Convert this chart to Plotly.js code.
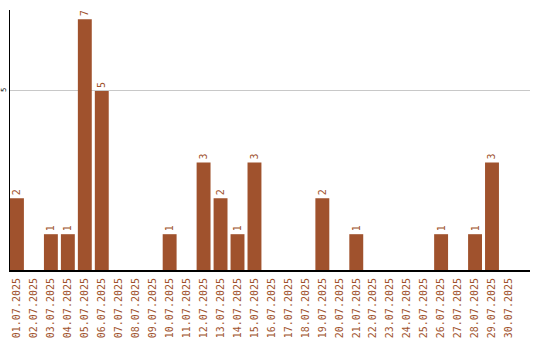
<!DOCTYPE html>
<html>
<head>
<meta charset="utf-8">
<script src="https://cdn.plot.ly/plotly-3.0.1.min.js"></script>
<style>
  html, body { margin: 0; padding: 0; background: #fff; }
  #chart { width: 540px; height: 340px; }
</style>
</head>
<body>
<div id="chart"></div>
<script>
// Daily counts for July 2025
const days = [
  "01.07.2025", "02.07.2025", "03.07.2025", "04.07.2025", "05.07.2025",
  "06.07.2025", "07.07.2025", "08.07.2025", "09.07.2025", "10.07.2025",
  "11.07.2025", "12.07.2025", "13.07.2025", "14.07.2025", "15.07.2025",
  "16.07.2025", "17.07.2025", "18.07.2025", "19.07.2025", "20.07.2025",
  "21.07.2025", "22.07.2025", "23.07.2025", "24.07.2025", "25.07.2025",
  "26.07.2025", "27.07.2025", "28.07.2025", "29.07.2025", "30.07.2025"
];
const counts = [
  2, 0, 1, 1, 7, 5, 0, 0, 0, 1,
  0, 3, 2, 1, 3, 0, 0, 0, 2, 0,
  1, 0, 0, 0, 0, 1, 0, 1, 3, 0
];
const yTicks = [5];

const barColor = "#a0522d";

// Only non-zero bars carry a value label
const labels = counts.map(v => (v > 0 ? String(v) : ""));

const trace = {
  type: "bar",
  x: days,
  y: counts,
  marker: { color: barColor },
  text: labels,
  textposition: "outside",
  textangle: -90,
  cliponaxis: false,
  textfont: { family: "DejaVu Sans Mono", size: 10, color: barColor },
  hoverinfo: "none"
};

const layout = {
  width: 540,
  height: 340,
  margin: { l: 10, r: 10, t: 10, b: 70, pad: 0 },
  paper_bgcolor: "#fff",
  plot_bgcolor: "#fff",
  showlegend: false,
  bargap: 0.18,
  xaxis: {
    type: "category",
    range: [-0.41, 30.24],
    tickangle: -90,
    tickfont: { family: "DejaVu Sans Mono", size: 10, color: barColor },
    ticks: "",
    ticklen: 0,
    ticklabelstandoff: 2,
    showgrid: false,
    showline: true,
    linecolor: "#000",
    linewidth: 2,
    zeroline: false,
    fixedrange: true
  },
  yaxis: {
    range: [0, 7.26],
    tickvals: yTicks,
    ticktext: yTicks.map(String),
    tickangle: -90,
    tickfont: { family: "DejaVu Sans", size: 7, color: "#000" },
    ticks: "",
    showgrid: true,
    gridcolor: "#c8c8c8",
    gridwidth: 1,
    showline: true,
    linecolor: "#000",
    linewidth: 1.5,
    zeroline: false,
    fixedrange: true
  }
};

Plotly.newPlot("chart", [trace], layout, { displayModeBar: false, staticPlot: true });
</script>
</body>
</html>
